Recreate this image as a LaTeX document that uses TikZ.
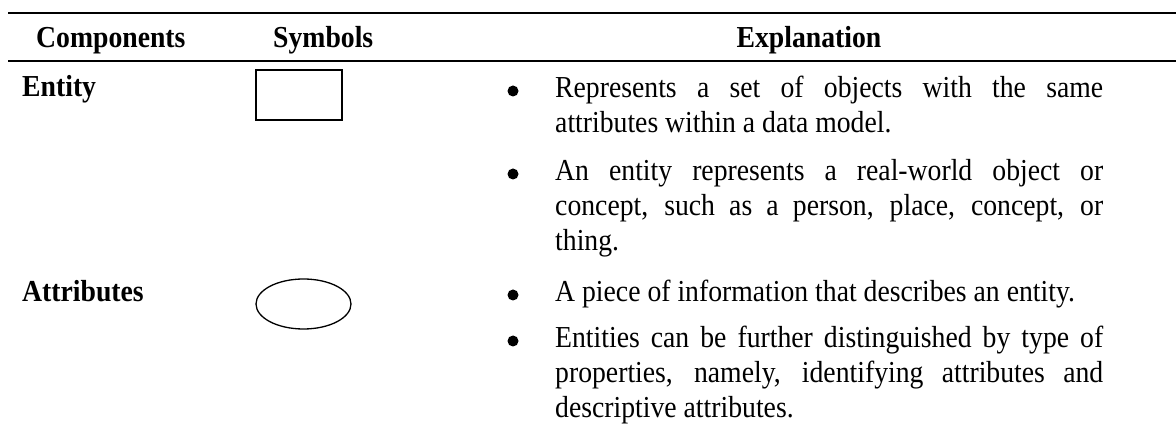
\documentclass[tikz,border=0pt]{standalone}
\usepackage{fontspec}
\usepackage{graphicx}
\setmainfont{Liberation Serif}
\usetikzlibrary{shapes.geometric}
\newlength\colw
\setlength\colw{548pt}
% type is set a little taller than wide
\newcommand{\tall}[1]{\scalebox{1}[1.1]{#1}}
\begin{document}
\begin{tikzpicture}[x=1pt,y=-1pt,
  rule/.style={line width=2pt},
  txt/.style={font=\fontsize{27.7}{31.8}\selectfont, inner sep=0pt},
  head/.style={txt, font=\fontsize{27.7}{31.8}\selectfont\bfseries},
  body/.style={txt, anchor=base west},
  dot/.style={circle, fill=black, inner sep=0pt, minimum size=11pt},
  sym/.style={draw=black, line width=1.3pt, inner sep=0pt}]

\useasboundingbox (0,0) rectangle (1176,427);

% table rules
\draw[rule] (8,13) -- (1176,13);
\draw[rule] (8,61) -- (1176,61);

% column heads
\node[head, anchor=base west] (hcomp) at (36,48) {\tall{Components}};
\node[head, anchor=base west] (hsym)  at (273,48) {\tall{Symbols}};
\node[head, anchor=base]      (hexp)  at (809,48) {\tall{Explanation}};

% row labels
\node[head, anchor=base west] (lent)  at (22,97)  {\tall{Entity}};
\node[head, anchor=base west] (lattr) at (22,302) {\tall{Attributes}};

% symbols
\node[sym, rectangle, minimum width=86pt, minimum height=50pt] (entsym) at (299,95) {};
\node[sym, ellipse, minimum width=95pt, minimum height=50pt] (attrsym) at (303.5,304) {};

% bullets
\node[dot] (b1) at (513,91)  {};
\node[dot] (b2) at (513,174) {};
\node[dot] (b3) at (513,295) {};
\node[dot] (b4) at (513,341) {};

% explanations
\node[body] (e1) at (555,98) {\tall{\parbox[t]{\colw}{%
  \makebox[\colw][s]{Represents a set of objects with the same}\\
  attributes within a data model.}}};
\node[body] (e2) at (555,181) {\tall{\parbox[t]{\colw}{%
  \makebox[\colw][s]{An entity represents a real-world object or}\\
  \makebox[\colw][s]{concept, such as a person, place, concept, or}\\
  thing.}}};
\node[body] (a1) at (555,302) {\tall{\parbox[t]{\colw}{%
  A piece of information that describes an entity.}}};
\node[body] (a2) at (555,348) {\tall{\parbox[t]{\colw}{%
  \makebox[\colw][s]{Entities can be further distinguished by type of}\\
  \makebox[\colw][s]{properties, namely, identifying attributes and}\\
  descriptive attributes.}}};
\end{tikzpicture}
\end{document}
